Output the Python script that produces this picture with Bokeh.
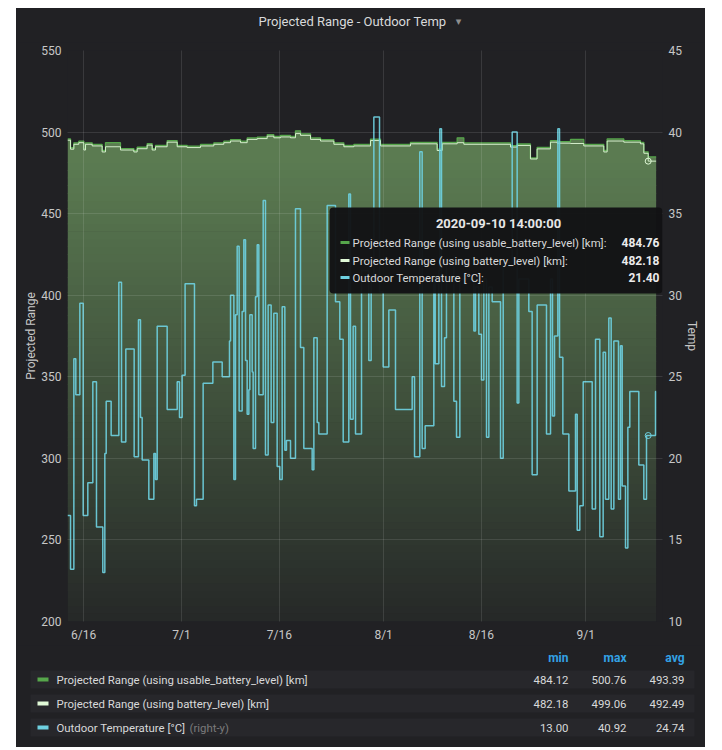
import numpy as np
from bokeh.plotting import figure
from bokeh.models import (Range1d, LinearAxis, FixedTicker, Label, BoxAnnotation,
                          ColumnDataSource, Spacer)
from bokeh.layouts import column, row
from bokeh.embed import file_html
from bokeh.resources import INLINE
from bokeh.core.properties import value

# ---------------- data ----------------
title_text = "Projected Range - Outdoor Temp"
left_axis_label = "Projected Range"
right_axis_label = "Temp"

# x positions are days since 2020-07-01 00:00
x_tick_days = [-15, 0, 15, 31, 46, 62]
x_tick_labels = ["6/16", "7/1", "7/16", "8/1", "8/16", "9/1"]
left_ticks = [200, 250, 300, 350, 400, 450, 500, 550]
right_ticks = [10, 15, 20, 25, 30, 35, 40, 45]

# Outdoor temperature (step series, change points)
temp_day = [-17.48, -17.02, -16.51, -16.21, -15.59, -15.08, -14.37, -13.60, -13.04, -12.07,
            -11.76, -11.55, -10.79, -9.61, -9.20, -8.54, -7.26, -6.60, -6.29, -6.03,
            -5.01, -4.24, -3.99, -3.73, -2.20, -0.66, -0.31, 0.10, 0.55,
            1.99, 2.30, 3.32, 4.81, 6.24, 7.36, 7.52, 8.03, 8.28, 8.54,
            8.84, 9.30, 9.56, 9.82, 10.07, 10.33, 10.48, 10.84, 10.99, 11.35,
            11.61, 11.86, 12.53, 12.88, 13.29, 13.75, 14.16, 14.67, 15.08, 15.44,
            15.85, 16.10, 16.72, 17.48, 18.25,
            18.76, 20.04, 20.30, 20.81, 21.06, 22.34, 23.62, 24.28, 24.80, 25.66,
            25.92, 26.33, 26.69, 27.61, 28.73, 29.09, 29.50, 30.37, 30.93, 31.80,
            32.82, 35.38, 35.74, 36.55,
            36.91, 37.37, 38.70, 38.91, 39.47, 39.62, 39.88, 40.34, 40.64, 41.77,
            42.18, 42.69, 44.84, 45.09, 45.60, 46.01, 46.37, 46.78, 47.14, 47.65,
            48.93, 49.34, 50.72, 51.48, 51.74, 53.27, 53.78, 54.55,
            55.98, 56.60, 56.90, 57.21, 57.72, 57.98, 58.49, 59.41, 60.43, 60.69,
            61.09, 61.61, 62.99, 63.50, 64.16, 64.67, 65.03, 65.54, 65.90, 66.31,
            67.02, 67.33, 67.59, 68.10, 68.46, 68.76, 70.14, 70.91, 71.32, 72.70]
temp_c = [16.5, 13.2, 26.1, 23.9, 29.5, 16.5, 18.5, 24.7, 15.8, 13.0,
          20.3, 23.5, 21.4, 30.8, 21.0, 26.7, 20.1, 28.5, 22.5, 19.9,
          17.5, 20.3, 18.7, 28.1, 23.0, 24.7, 22.5, 25.1, 30.7,
          17.1, 17.5, 24.6, 25.9, 25.0, 27.2, 30.0, 18.7, 28.8, 33.0,
          22.9, 29.0, 33.4, 26.0, 22.7, 24.2, 28.8, 25.3, 20.6, 29.9,
          33.1, 23.9, 35.8, 20.2, 29.4, 22.2, 28.9, 19.5, 18.7, 29.3,
          20.5, 21.1, 20.0, 35.3, 26.8,
          20.6, 19.3, 27.4, 22.2, 21.5, 35.5, 29.6, 27.3, 21.0, 36.2,
          22.4, 28.1, 21.5, 31.5, 26.0, 31.0, 40.92, 30.2, 25.6, 29.1,
          23.0, 25.0, 20.1, 38.8,
          20.6, 22.0, 31.0, 25.8, 31.5, 40.2, 24.4, 27.4, 32.0, 23.5,
          21.3, 31.0, 27.8, 30.5, 27.6, 24.8, 31.0, 21.3, 30.5, 29.6,
          20.0, 32.0, 40.0, 23.4, 31.0, 29.0, 19.0, 29.4,
          21.5, 31.0, 22.6, 27.5, 40.2, 26.2, 21.5, 18.0, 22.7, 15.6,
          17.1, 24.7, 16.9, 27.3, 15.2, 26.5, 17.5, 28.6, 16.9, 27.2,
          17.5, 26.9, 18.3, 14.5, 21.9, 24.1, 19.6, 17.5, 21.4, 24.1]

# Projected range series (step series, change points)
range_day = [-17.48, -17.02, -16.51, -15.75, -14.98, -14.72, -13.70, -12.17, -11.66, -9.36,
             -7.31, -6.80, -5.27, -4.50, -3.99, -2.20, -0.66, 0.87, 2.91, 4.96,
             6.49, 7.52, 9.05, 10.07, 11.61, 13.14, 14.16, 15.18, 16.72, 17.48,
             18.25, 19.79, 21.32, 23.37, 24.90, 26.43, 28.99, 30.52, 35.12, 39.21,
             39.98, 42.28, 43.30, 50.46, 51.48, 53.52, 54.54, 56.59, 57.61, 59.66,
             61.70, 64.77, 65.28, 67.84, 70.39, 70.91, 71.58]
range_battery = [495.0, 489.5, 492.5, 493.5, 489.0, 492.5, 491.5, 487.8, 491.0, 489.0,
                 487.8, 489.8, 492.0, 489.0, 491.0, 493.8, 491.0, 490.5, 491.5, 492.5,
                 493.5, 494.5, 493.5, 495.5, 496.0, 497.5, 496.5, 497.0, 496.5, 499.06,
                 498.0, 495.5, 494.5, 492.5, 491.0, 491.5, 494.8, 491.5, 492.8, 488.7,
                 492.8, 493.5, 492.5, 490.8, 491.8, 483.5, 489.7, 493.8, 493.2, 493.0,
                 491.5, 487.8, 494.5, 493.8, 492.8, 487.0, 482.18]
range_usable = [495.8, 490.4, 493.4, 494.4, 489.9, 493.4, 492.4, 488.7, 493.5, 489.9,
                488.7, 490.7, 492.9, 489.9, 491.9, 494.7, 491.9, 491.4, 492.4, 493.4,
                494.4, 495.4, 494.4, 496.4, 496.9, 498.4, 497.4, 497.9, 497.4, 500.76,
                498.9, 496.4, 495.4, 493.4, 491.9, 492.4, 495.7, 492.4, 493.7, 489.6,
                493.7, 496.5, 493.4, 491.7, 492.7, 484.12, 490.6, 494.7, 494.1, 495.5,
                492.4, 488.7, 495.8, 494.7, 493.7, 487.9, 484.76]
data_end_day = 72.8

series_names = ["Projected Range (using usable_battery_level) [km]",
                "Projected Range (using battery_level) [km]",
                "Outdoor Temperature [°C]"]
stat_headers = ["min", "max", "avg"]
stat_min = ["484.12", "482.18", "13.00"]
stat_max = ["500.76", "499.06", "40.92"]
stat_avg = ["493.39", "492.49", "24.74"]

hover_time = "2020-09-10 14:00:00"
hover_day = 71.58
hover_usable = 484.76
hover_battery = 482.18
hover_temp = 21.40
hover_labels = ["484.76", "482.18", "21.40"]

# ---------------- style / layout ----------------
FONT = "Roboto"
OUTER = "#161719"
PANEL = "#212124"
USABLE_C = "#56a64b"
BATT_C = "#e0f9d7"
TEMP_C = "#6ed0e0"
TICK_C = "#c7c7c7"
TXT_C = "#d8d9da"

PANEL_L, PANEL_R = 16, 705
FRAME_L, FRAME_R, FRAME_T, FRAME_B = 67, 662, 50, 621  # page pixels of plot frame
DAY0_PX, PX_PER_DAY = 181, 6.52                          # 7/1 position and scale
X_START = (FRAME_L - DAY0_PX) / PX_PER_DAY
X_END = (FRAME_R - DAY0_PX) / PX_PER_DAY
CHART_TOP, CHART_BOTTOM, PAGE_BOTTOM = 42, 645, 747


def px_x(x):
    return (x - DAY0_PX) / PX_PER_DAY


def px_y(y):
    return left_ticks[0] + (FRAME_B - y) * (left_ticks[-1] - left_ticks[0]) / (FRAME_B - FRAME_T)


def steps(days, vals, end):
    xs, ys = [], []
    for i in range(len(days)):
        nxt = days[i + 1] if i + 1 < len(days) else end
        xs += [days[i], nxt]
        ys += [vals[i], vals[i]]
    return xs, ys


def blank_fig(height, y_top, y_bottom):
    f = figure(width=PANEL_R - PANEL_L, height=height,
               x_range=Range1d(PANEL_L, PANEL_R), y_range=Range1d(y_bottom, y_top),
               output_backend="svg", toolbar_location=None,
               x_axis_location=None, y_axis_location=None, frame_align=False,
               min_border_left=0, min_border_right=0, min_border_top=0, min_border_bottom=0,
               background_fill_color=PANEL, border_fill_color=PANEL, outline_line_color=None)
    f.xgrid.visible = False
    f.ygrid.visible = False
    return f


ux, uy = steps(range_day, range_usable, data_end_day)
bx, by = steps(range_day, range_battery, data_end_day)
tx, ty = steps(temp_day, temp_c, data_end_day)

# ---------------- header (panel title) ----------------
hd = blank_fig(CHART_TOP - 8, 8, CHART_TOP)
hd.text(x=[352], y=[21], text=[title_text], text_font=value(FONT), text_font_size="13px",
        text_color=TXT_C, text_align="center", text_baseline="middle")
hd.text(x=[458], y=[21], text=["▾"], text_font=value("DejaVu Sans"), text_font_size="11px",
        text_color="#8e8e8e", text_align="center", text_baseline="middle")

# ---------------- chart figure ----------------
p = figure(width=PANEL_R - PANEL_L, height=CHART_BOTTOM - CHART_TOP,
           x_range=Range1d(X_START, X_END),
           y_range=Range1d(left_ticks[0], left_ticks[-1]),
           output_backend="svg", toolbar_location=None, frame_align=False,
           min_border_left=FRAME_L - PANEL_L, min_border_right=PANEL_R - FRAME_R,
           min_border_top=FRAME_T - CHART_TOP, min_border_bottom=CHART_BOTTOM - FRAME_B,
           background_fill_color=PANEL, border_fill_color=PANEL, outline_line_color=None)
p.extra_y_ranges = {"temp": Range1d(right_ticks[0], right_ticks[-1])}
raxis = LinearAxis(y_range_name="temp", axis_label=right_axis_label)
p.add_layout(raxis, "right")

p.xaxis.ticker = FixedTicker(ticks=x_tick_days)
p.xaxis.major_label_overrides = dict(zip(x_tick_days, x_tick_labels))
p.yaxis[0].ticker = FixedTicker(ticks=left_ticks)
p.yaxis[0].axis_label = left_axis_label
raxis.ticker = FixedTicker(ticks=right_ticks)

for ax in [p.xaxis[0], p.yaxis[0], raxis]:
    ax.axis_line_color = None
    ax.major_tick_line_color = None
    ax.minor_tick_line_color = None
    ax.major_tick_out = 0
    ax.major_tick_in = 0
    ax.minor_tick_out = 0
    ax.minor_tick_in = 0
    ax.major_label_text_font = FONT
    ax.major_label_text_font_size = "12px"
    ax.major_label_text_color = TICK_C
    ax.axis_label_text_font = FONT
    ax.axis_label_text_font_size = "12px"
    ax.axis_label_text_font_style = "normal"
    ax.axis_label_text_color = TICK_C
    ax.axis_label_standoff = 0
p.xaxis.major_label_standoff = 6
p.yaxis[0].major_label_standoff = 6
raxis.major_label_standoff = 6

for g in [p.xgrid[0], p.ygrid[0]]:
    g.grid_line_color = "white"
    g.grid_line_alpha = 0.11
    g.level = "annotation"

# gradient fill under the range lines
BG = (33, 33, 36)
FILL = (126, 178, 109)


def blend(a):
    return "#%02x%02x%02x" % tuple(int(round(b + a * (f - b))) for b, f in zip(BG, FILL))


GRAD_TOP = 481.0
N = 60
edges = np.linspace(left_ticks[0], GRAD_TOP, N + 1)
band_src = ColumnDataSource(dict(
    bottom=edges[:-1], top=edges[1:] + 0.4,
    color=[blend(0.05 + 0.57 * ((lo + hi) / 2 - left_ticks[0]) / (GRAD_TOP - left_ticks[0]))
           for lo, hi in zip(edges[:-1], edges[1:])]))
p.quad(left=range_day[0], right=data_end_day, bottom="bottom", top="top",
       fill_color="color", line_color=None, source=band_src)
p.varea(x=ux, y1=GRAD_TOP, y2=uy, fill_color=blend(0.62))

p.line(ux, uy, line_color=USABLE_C, line_width=1.3)
p.line(bx, by, line_color=BATT_C, line_width=1, line_alpha=0.9)
p.line(tx, ty, y_range_name="temp", line_color=TEMP_C, line_width=1.5, line_alpha=0.92)

p.scatter([hover_day], [hover_battery], size=6, fill_color=None, line_color=BATT_C, line_width=1)
p.scatter([hover_day], [hover_temp], y_range_name="temp", size=6, fill_color=None,
          line_color=TEMP_C, line_width=1)

# hover tooltip (clipped at the plot frame's right edge)
p.add_layout(BoxAnnotation(left=px_x(329), right=None, top=px_y(207), bottom=px_y(293),
                           fill_color="#121214", fill_alpha=0.96, line_color=None,
                           border_radius=4, level="overlay"))
p.add_layout(Label(x=px_x(498), y=px_y(223), text=hover_time, text_font=FONT,
                   text_font_size="13px", text_font_style="bold", text_color="#e6e6e6",
                   text_align="center", text_baseline="middle", level="overlay"))
row_py = [242, 260, 277]
for name, val, col, py in zip(series_names, hover_labels, [USABLE_C, BATT_C, TEMP_C], row_py):
    p.add_layout(BoxAnnotation(left=px_x(340), right=px_x(349), top=px_y(py - 1.5),
                               bottom=px_y(py + 1.5), fill_color=col, fill_alpha=1,
                               line_color=None, level="overlay"))
    p.add_layout(Label(x=px_x(352), y=px_y(py), text=name + ":", text_font=FONT,
                       text_font_size="11.4px", text_color=TXT_C,
                       text_baseline="middle", level="overlay"))
    p.add_layout(Label(x=px_x(659), y=px_y(py), text=val, text_font=FONT,
                       text_font_size="12px", text_font_style="bold", text_color="#ececec",
                       text_align="right", text_baseline="middle", level="overlay"))

# ---------------- legend table figure ----------------
lg = blank_fig(PAGE_BOTTOM - CHART_BOTTOM, CHART_BOTTOM, PAGE_BOTTOM)

col_right = [568, 626, 684]
row_y = [679, 703, 727]
lg.quad(left=30, right=694, top=[y - 9 for y in row_y], bottom=[y + 9 for y in row_y],
        fill_color="#27272b", line_color=None)
lg.quad(left=37, right=48, top=[y - 2 for y in row_y], bottom=[y + 2 for y in row_y],
        fill_color=[USABLE_C, BATT_C, TEMP_C], line_color=None)
lg.text(x=col_right, y=[657] * 3, text=stat_headers, text_font=value(FONT),
        text_font_size="12px", text_font_style="bold", text_color="#33a2e5",
        text_align="right", text_baseline="middle")
lg.text(x=[56] * 3, y=row_y, text=series_names, text_font=value(FONT),
        text_font_size="11.4px", text_color=TXT_C, text_baseline="middle")
lg.text(x=[189], y=[row_y[2]], text=["(right-y)"], text_font=value(FONT),
        text_font_size="11.4px", text_color="#7b7b7b", text_baseline="middle")
for cx, vals in zip(col_right, [stat_min, stat_max, stat_avg]):
    lg.text(x=[cx] * 3, y=row_y, text=vals, text_font=value(FONT),
            text_font_size="11.4px", text_color=TXT_C, text_align="right",
            text_baseline="middle")

layout = column(Spacer(width=PANEL_R, height=8),
                row(Spacer(width=PANEL_L, height=PAGE_BOTTOM - 8),
                    column(hd, p, lg, styles={"background-color": PANEL})))

html = file_html(layout, INLINE, title=title_text)
html = html.replace("<body>", '<body style="background-color:%s;">' % OUTER, 1)
open("out.html", "w").write(html)
